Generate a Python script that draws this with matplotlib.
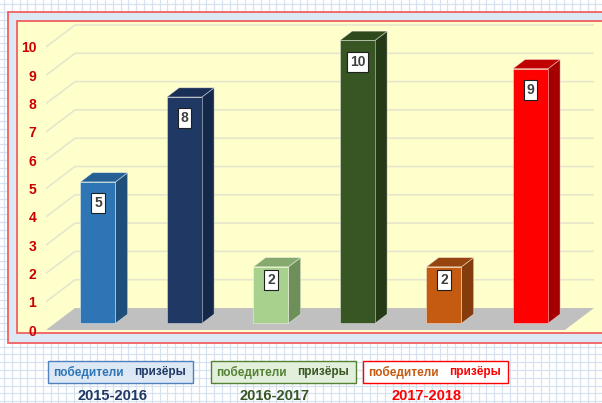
import matplotlib
matplotlib.use("Agg")
import matplotlib.pyplot as plt
from matplotlib.patches import Polygon, Rectangle
import numpy as np

plt.rcParams['font.family'] = ['Liberation Sans', 'DejaVu Sans']

# data
years = ['2015-2016', '2016-2017', '2017-2018']
groups = ['победители', 'призёры']
winners = [5, 2, 2]
prizes = [8, 10, 9]
yticks = list(range(0, 11))

# colours per year: (winners, prize-winners)
front_cols = [('#2e75b6', '#1f3864'), ('#a9d18e', '#375623'), ('#c55a11', '#ff0000')]
side_cols = [('#1f4e79', '#14284a'), ('#6f8f5a', '#243a16'), ('#843c0c', '#a50000')]
top_cols = [('#255f94', '#1a2f56'), ('#86a96f', '#2e4a1d'), ('#96450e', '#c00000')]
legend_text = [('#2e75b6', '#1f3864'), ('#548235', '#375623'), ('#c55a11', '#ff0000')]
legend_fill = ['#dde8f5', '#e2efda', '#ffffff']
legend_edge = ['#4f81bd', '#548235', '#ff0000']
year_cols = ['#1f3864', '#375623', '#ff0000']

W, H = 602, 403
fig = plt.figure(figsize=(W / 100, H / 100), dpi=100)

# background: graph paper + frames (pixel coords)
bg = fig.add_axes([0, 0, 1, 1])
bg.set_xlim(0, W)
bg.set_ylim(H, 0)
bg.axis('off')
for x in np.arange(4, W, 7.78):
    bg.axvline(x, color='#d6e2f0', lw=0.9, zorder=0)
for y in np.arange(4.4, H, 7.78):
    bg.axhline(y, color='#d6e2f0', lw=0.9, zorder=0)
bg.add_patch(Rectangle((8, 12), 610, 331, facecolor='#dde8f5', edgecolor='#f06060', lw=1.3, zorder=1))
bg.add_patch(Rectangle((17, 21), 600, 312, facecolor='#ffffcc', edgecolor='#f06060', lw=1.3, zorder=2))

# legend boxes and year captions
box_x = [48, 211, 363]
for i in range(3):
    bg.add_patch(Rectangle((box_x[i], 361), 145, 22, facecolor=legend_fill[i],
                           edgecolor=legend_edge[i], lw=1.0, zorder=3))
    bg.text(box_x[i] + 40, 372.5, groups[0], color=legend_text[i][0], fontsize=8.5,
            fontweight='bold', ha='center', va='center', zorder=4)
    bg.text(box_x[i] + 112, 372.5, groups[1], color=legend_text[i][1],
            fontsize=8.5, fontweight='bold', ha='center', va='center', zorder=4)
    bg.text(box_x[i] + 64, 396, years[i], color=year_cols[i], fontsize=10.5,
            fontweight='bold', ha='center', va='center', zorder=4)

# main 3D-ish chart
DX = 29 / 86.5   # depth shift in slot units
DY = 22 / 28.3   # depth shift in value units
n = 6
ax = fig.add_axes([46 / W, 1 - 330 / H, 548 / W, 309 / H])
ax.patch.set_visible(False)
ax.set_xlim(0, n + DX)
ax.set_ylim(0, 309 / 28.3)
for s in ax.spines.values():
    s.set_visible(False)
ax.set_xticks([])
ax.set_yticks(yticks)
ax.set_yticklabels([str(t) for t in yticks], color='#cc0000', fontweight='bold', fontsize=10)
ax.tick_params(axis='y', length=0, pad=7)

# floor
ax.add_patch(Polygon([(0, 0), (n, 0), (n + DX, DY), (DX, DY)], closed=True,
                     facecolor='#c0c0c0', edgecolor='none', zorder=1))
# gridlines: diagonal on the left plus back wall
for k in yticks[1:]:
    ax.plot([0, DX, n + DX], [k, k + DY, k + DY], color='#e6e6cc', lw=1.2, zorder=0)

values, fronts, sides, tops = [], [], [], []
for i in range(3):
    for j, v in enumerate([winners[i], prizes[i]]):
        values.append(v)
        fronts.append(front_cols[i][j])
        sides.append(side_cols[i][j])
        tops.append(top_cols[i][j])

bw = 0.405
d0, d1 = 0.3, 0.72
edge = (1, 1, 1, 0.45)
for i, v in enumerate(values):
    x0 = i + (1 - bw) / 2 + d0 * DX
    x1 = x0 + bw
    y0 = d0 * DY
    ox, oy = (d1 - d0) * DX, (d1 - d0) * DY
    ax.add_patch(Polygon([(x1, y0), (x1 + ox, y0 + oy), (x1 + ox, y0 + v + oy), (x1, y0 + v)],
                         facecolor=sides[i], edgecolor=edge, lw=0.6, zorder=3))
    ax.add_patch(Polygon([(x0, y0 + v), (x1, y0 + v), (x1 + ox, y0 + v + oy), (x0 + ox, y0 + v + oy)],
                         facecolor=tops[i], edgecolor=edge, lw=0.6, zorder=3))
    ax.add_patch(Rectangle((x0, y0), bw, v, facecolor=fronts[i], edgecolor=edge, lw=0.6, zorder=4))
    off = min(0.75, 0.23 * v)
    ax.text(x0 + bw / 2, y0 + v - off, str(v), ha='center', va='center', fontsize=10,
            fontweight='bold', color='#404040', zorder=5,
            bbox=dict(boxstyle='square,pad=0.22', facecolor='white', edgecolor='#202020', lw=0.8))

fig.savefig('out.png', dpi=100)
